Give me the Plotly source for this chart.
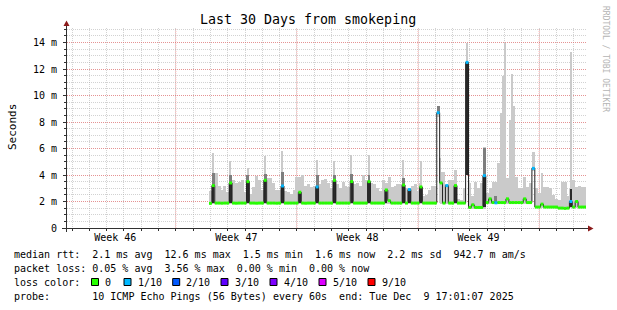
import pandas as pd
import plotly.graph_objects as go

# ---------------- data ----------------
START = "2025-11-09 17:01:07"
END = "2025-12-09 17:01:07"
FIRST_BIN = "2025-11-17 22:00:00"   # first 4-hour bin with data
BIN_HOURS = 4

# median RTT per 4h bin (ms), one row per day (6 bins/day)
median_ms = [
    1.86, 3.20, 1.88, 1.88, 1.87, 1.88,
    1.88, 3.40, 1.88, 1.87, 1.88, 1.88,
    1.88, 3.50, 1.88, 1.88, 1.87, 1.88,
    1.88, 3.60, 1.88, 1.88, 1.88, 1.87,
    1.88, 3.17, 1.88, 1.88, 1.88, 1.88,
    1.88, 2.70, 1.88, 1.87, 1.88, 1.88,
    1.88, 3.10, 1.88, 1.88, 1.88, 1.88,
    1.88, 3.60, 1.88, 1.88, 1.88, 1.88,
    1.88, 3.50, 1.88, 1.88, 1.88, 1.88,
    1.88, 3.50, 1.88, 1.88, 1.88, 1.88,
    1.88, 2.87, 2.06, 1.88, 1.88, 1.88,
    1.88, 3.24, 1.88, 2.90, 1.88, 1.88,
    1.88, 3.10, 1.88, 1.88, 1.88, 1.88,
    1.88, 8.70, 3.40, 1.88, 3.20, 1.88,
    1.88, 3.20, 1.88, 1.88, 1.88, 12.50,
    1.55, 1.75, 1.55, 1.55, 1.55, 3.95,
    1.92, 2.20, 1.92, 1.90, 1.92, 1.92,
    1.92, 2.20, 1.92, 1.92, 1.92, 1.92,
    1.92, 2.20, 1.92, 1.92, 4.50, 1.58,
    1.58, 1.80, 1.58, 1.58, 1.58, 1.58,
    1.58, 1.50, 1.50, 1.48, 1.50, 2.00,
    1.58, 2.00, 1.58, 1.58, 1.58,
]

# loss class per bin (index into loss_labels)
loss_idx = [
    0, 0, 0, 0, 0, 0,
    0, 0, 0, 0, 0, 0,
    0, 0, 0, 0, 0, 0,
    0, 0, 0, 0, 0, 0,
    0, 1, 0, 0, 0, 0,
    0, 0, 0, 0, 0, 0,
    0, 1, 0, 0, 0, 0,
    0, 0, 0, 0, 0, 0,
    0, 0, 0, 0, 0, 0,
    0, 0, 0, 0, 0, 0,
    0, 0, 0, 0, 0, 0,
    0, 0, 0, 1, 0, 0,
    0, 0, 0, 0, 0, 0,
    0, 1, 0, 0, 1, 0,
    0, 0, 0, 0, 0, 1,
    0, 0, 0, 0, 0, 1,
    0, 0, 0, 1, 0, 0,
    0, 0, 0, 0, 0, 0,
    0, 0, 0, 0, 1, 0,
    0, 0, 0, 0, 0, 0,
    0, 0, 0, 0, 0, 1,
    0, 0, 0, 0, 0,
]

# light smoke: highest ping per bin (ms)
smoke_max_ms = [
    2.80, 4.17, 4.17, 3.20, 2.90, 3.20,
    2.74, 3.60, 3.60, 3.40, 3.50, 3.60,
    2.74, 3.60, 2.60, 3.10, 3.95, 3.60,
    2.87, 3.70, 3.80, 3.80, 3.40, 2.87,
    2.87, 4.20, 2.80, 2.70, 2.60, 2.87,
    3.87, 3.87, 4.00, 3.20, 3.30, 3.10,
    3.20, 4.00, 3.30, 3.60, 3.70, 3.40,
    3.00, 4.00, 3.30, 3.00, 3.50, 3.20,
    3.10, 4.10, 3.30, 3.40, 3.20, 4.00,
    3.60, 4.00, 3.40, 3.30, 3.00, 2.80,
    3.60, 3.40, 3.87, 3.10, 3.20, 3.30,
    3.30, 3.80, 3.00, 3.00, 3.20, 3.30,
    2.80, 3.40, 2.40, 2.50, 2.90, 3.20,
    3.20, 9.20, 4.20, 4.20, 3.30, 3.60,
    3.60, 4.40, 2.20, 2.10, 3.00, 14.00,
    3.40, 2.40, 3.50, 3.00, 3.40, 6.10,
    2.67, 3.00, 3.50, 3.50, 4.90, 8.70,
    11.50, 3.80, 8.15, 9.20, 3.87, 3.00,
    3.00, 3.87, 3.10, 3.40, 5.76, 3.00,
    2.64, 4.15, 3.10, 3.10, 3.00, 2.50,
    2.20, 2.10, 3.50, 3.50, 2.40, 2.94,
    3.60, 3.10, 3.20, 3.10, 3.10,
]

# light smoke: lowest ping per bin (ms)
smoke_min_ms = [
    1.80, 1.80, 1.80, 1.80, 1.80, 1.80,
    1.80, 1.80, 1.80, 1.80, 1.80, 1.80,
    1.80, 1.80, 1.80, 1.80, 1.80, 1.80,
    1.80, 1.80, 1.80, 1.80, 1.80, 1.80,
    1.80, 1.80, 1.80, 1.80, 1.80, 1.80,
    1.80, 1.80, 1.80, 1.80, 1.80, 1.80,
    1.80, 1.80, 1.80, 1.80, 1.80, 1.80,
    1.80, 1.80, 1.80, 1.80, 1.80, 1.80,
    1.80, 1.80, 1.80, 1.80, 1.80, 1.80,
    1.80, 1.80, 1.80, 1.80, 1.80, 1.80,
    1.80, 1.80, 1.80, 1.80, 1.80, 1.80,
    1.80, 1.80, 1.80, 1.80, 1.80, 1.80,
    1.80, 1.80, 1.80, 1.80, 1.80, 1.80,
    1.80, 8.40, 1.80, 1.80, 1.80, 1.80,
    1.80, 1.80, 1.80, 1.80, 1.80, 4.00,
    1.45, 1.45, 1.45, 1.45, 1.45, 1.45,
    1.82, 1.82, 1.82, 1.82, 1.82, 1.82,
    1.82, 1.82, 1.82, 1.82, 1.82, 1.82,
    1.82, 1.82, 1.82, 1.82, 4.30, 1.48,
    1.48, 1.48, 1.48, 1.48, 1.48, 1.48,
    1.48, 1.42, 1.42, 1.42, 1.42, 1.48,
    1.48, 1.48, 1.48, 1.48, 1.48,
]

# medium-grey smoke (bin index, low, high)
mid_bin = [1, 7, 13, 19, 25, 37, 43, 49, 55, 67, 79, 95, 99]
mid_lo = [3.20, 3.40, 3.50, 3.60, 3.17, 3.10, 3.60, 3.50, 3.50, 3.24, 8.70, 3.95, 1.90]
mid_hi = [4.17, 4.00, 4.00, 4.10, 4.20, 4.00, 4.00, 4.10, 4.00, 3.80, 9.20, 6.06, 2.40]

# darkest smoke (bin index, low, high)
dark_bin = [1, 7, 13, 19, 25, 31, 37, 43, 49, 55, 61, 67, 69, 73, 85, 89, 95, 125]
dark_lo = [1.88, 1.88, 1.88, 1.88, 1.88, 1.88, 1.88, 1.88, 1.88, 1.88, 1.88, 1.88,
           1.88, 1.88, 1.88, 4.00, 1.55, 1.58]
dark_hi = [3.20, 3.40, 3.50, 3.60, 3.17, 2.70, 3.10, 3.60, 3.50, 3.50, 2.87, 3.24,
           2.90, 3.10, 3.20, 12.50, 3.95, 2.94]

# single outlier pings (time, ms)
thin_time = ["2025-11-18 03:30", "2025-11-19 03:30", "2025-11-20 03:30",
             "2025-11-21 03:30", "2025-11-22 03:30", "2025-11-24 03:30",
             "2025-11-25 03:30", "2025-11-26 03:30", "2025-11-27 03:30",
             "2025-11-29 03:30", "2025-11-30 03:30", "2025-12-01 06:25",
             "2025-12-04 21:50", "2025-12-05 00:40", "2025-12-05 10:25",
             "2025-12-08 20:10"]
thin_ms = [5.66, 5.06, 4.50, 5.43, 5.80, 5.13, 5.06, 5.50, 5.50, 5.13, 5.06,
           5.30, 11.50, 14.00, 11.60, 13.30]
thin_base_ms = 1.85

loss_labels = ["0", "1/10", "2/10", "3/10", "4/10", "5/10", "9/10"]
loss_colors = ["#26ff00", "#00b8ff", "#0059ff", "#5e00ff", "#7e00ff", "#dd00ff", "#ff0000"]

week_labels = ["Week 46", "Week 47", "Week 48", "Week 49"]
week_centers = ["2025-11-12 12:00", "2025-11-19 12:00", "2025-11-26 12:00", "2025-12-03 12:00"]
week_bounds = ["2025-11-16 00:00", "2025-11-23 00:00", "2025-11-30 00:00", "2025-12-07 00:00"]
y_tickvals = [0, 2, 4, 6, 8, 10, 12, 14]
y_ticktext = ["0", "2 m", "4 m", "6 m", "8 m", "10 m", "12 m", "14 m"]

title_text = "Last 30 Days from smokeping"
y_title = "Seconds"
side_text = "RRDTOOL / TOBI OETIKER"
stat_lines = [
    "median rtt:  2.1 ms avg  12.6 ms max  1.5 ms min  1.6 ms now  2.2 ms sd  942.7 m am/s",
    "packet loss: 0.05 % avg  3.56 % max  0.00 % min  0.00 % now",
    "loss color:",
    "probe:       10 ICMP Echo Pings (56 Bytes) every 60s  end: Tue Dec  9 17:01:07 2025",
]

# ---------------- geometry (pixels) ----------------
W, H = 617, 310
L, R, T, B = 67, 31, 28, 82
PW, PH = W - L - R, H - T - B
Y_MAX = 15.094
MONO = "DejaVu Sans Mono"


def px(x):
    return (x - L) / PW


def py(y):
    return (T + PH - y) / PH


# ---------------- build ----------------
n = len(median_ms)
bin_w = pd.Timedelta(hours=BIN_HOURS)
bin_start = pd.date_range(FIRST_BIN, periods=n, freq=f"{BIN_HOURS}h")
bin_mid = bin_start + bin_w / 2
bin_ms = bin_w.total_seconds() * 1000

fig = go.Figure()

LIGHT = "#cacaca"
MID = "#7e7e7e"
DARK = "#2a2a2a"

# outlier pings
fig.add_trace(go.Bar(
    x=pd.to_datetime(thin_time), y=[v - thin_base_ms for v in thin_ms], base=thin_base_ms,
    width=1.5 * 3600 * 1000, marker=dict(color=LIGHT, line=dict(width=0)),
    hoverinfo="skip"))
# light smoke
fig.add_trace(go.Bar(
    x=bin_mid, y=[mx - mn for mx, mn in zip(smoke_max_ms, smoke_min_ms)], base=smoke_min_ms,
    width=bin_ms, marker=dict(color=LIGHT, line=dict(width=0)), hoverinfo="skip"))
# medium smoke
fig.add_trace(go.Bar(
    x=[bin_mid[k] for k in mid_bin], y=[h - l for l, h in zip(mid_lo, mid_hi)], base=mid_lo,
    width=bin_ms, marker=dict(color=MID, line=dict(width=0)), hoverinfo="skip"))
# dark smoke
fig.add_trace(go.Bar(
    x=[bin_mid[k] for k in dark_bin], y=[h - l for l, h in zip(dark_lo, dark_hi)], base=dark_lo,
    width=bin_ms * 0.8, marker=dict(color=DARK, line=dict(width=0)), hoverinfo="skip"))
# median step line (thin dark)
fig.add_trace(go.Scatter(
    x=list(bin_start) + [bin_start[-1] + bin_w], y=median_ms + [median_ms[-1]],
    mode="lines", line=dict(color="#202020", width=1, shape="hv"), hoverinfo="skip"))
# median colored by loss
for li, col in enumerate(loss_colors):
    xs, ys = [], []
    for k in range(n):
        if loss_idx[k] == li:
            xs += [bin_start[k], bin_start[k] + bin_w, None]
            ys += [median_ms[k], median_ms[k], None]
    if xs:
        fig.add_trace(go.Scatter(x=xs, y=ys, mode="lines",
                                 line=dict(color=col, width=3), hoverinfo="skip"))

GRID_MINOR = "rgba(165,165,165,0.5)"
GRID_MAJOR = "rgba(255,60,60,0.42)"
DASH = "1px,1px"

shapes = []
for wb in week_bounds:
    shapes.append(dict(type="line", xref="x", yref="paper", x0=wb, x1=wb, y0=0, y1=1,
                       line=dict(color=GRID_MAJOR, width=1, dash=DASH), layer="below"))
# axis lines + arrows
AX = "#303030"
ARROW = "#8b1a1a"
shapes += [
    dict(type="line", xref="paper", yref="paper", x0=px(66.5), x1=px(66.5), y0=py(232), y1=py(25),
         line=dict(color=AX, width=1)),
    dict(type="line", xref="paper", yref="paper", x0=px(62), x1=px(589), y0=py(228.5), y1=py(228.5),
         line=dict(color=AX, width=1)),
    dict(type="path", xref="paper", yref="paper",
         path=f"M {px(63.5)},{py(26)} L {px(69.5)},{py(26)} L {px(66.5)},{py(20.5)} Z",
         fillcolor=ARROW, line=dict(width=0)),
    dict(type="path", xref="paper", yref="paper",
         path=f"M {px(588)},{py(225.5)} L {px(588)},{py(231.5)} L {px(593.5)},{py(228.5)} Z",
         fillcolor=ARROW, line=dict(width=0)),
]

annotations = [
    dict(text=title_text, xref="paper", yref="paper", x=px(307.5), y=py(19.5),
         xanchor="center", yanchor="middle", showarrow=False,
         font=dict(family=MONO, size=13.3, color="#000")),
    dict(text=y_title, xref="paper", yref="paper", x=px(12), y=py(127),
         xanchor="center", yanchor="middle", textangle=-90, showarrow=False,
         font=dict(family=MONO, size=11, color="#000")),
    dict(text=side_text, xref="paper", yref="paper", x=px(606), y=py(59),
         xanchor="center", yanchor="middle", textangle=90, showarrow=False,
         font=dict(family=MONO, size=8, color="#b4b4b4")),
]
line_y = [254.5, 268, 282, 296]
for txt, ly in zip(stat_lines, line_y):
    annotations.append(dict(text=txt.replace(" ", "\u00a0"), xref="paper", yref="paper",
                            x=px(12), y=py(ly), xanchor="left", yanchor="middle",
                            showarrow=False, font=dict(family=MONO, size=10, color="#000")))
box_x = [91.5, 124, 172.7, 221, 270, 319, 368]
for bx, lab, col in zip(box_x, loss_labels, loss_colors):
    shapes.append(dict(type="rect", xref="paper", yref="paper", x0=px(bx), x1=px(bx + 7),
                       y0=py(line_y[2] + 3.5), y1=py(line_y[2] - 3.5),
                       fillcolor=col, line=dict(color="#000", width=1)))
    annotations.append(dict(text=lab, xref="paper", yref="paper", x=px(bx + 11.5), y=py(line_y[2]),
                            xanchor="left", yanchor="middle", showarrow=False,
                            font=dict(family=MONO, size=10, color="#000")))

fig.update_layout(
    width=W, height=H, margin=dict(l=L, r=R, t=T, b=B, pad=0),
    paper_bgcolor="#ffffff", plot_bgcolor="#ffffff",
    showlegend=False, barmode="overlay", bargap=0, hovermode=False,
    shapes=shapes, annotations=annotations,
    xaxis=dict(type="date", range=[START, END], tickvals=week_centers, ticktext=week_labels,
               showgrid=False, zeroline=False, showline=False, ticks="", fixedrange=True,
               tickfont=dict(family=MONO, size=10, color="#000"), ticklabelstandoff=2,
               minor=dict(dtick=86400000, tick0="2025-11-10", showgrid=True,
                          gridcolor=GRID_MINOR, griddash=DASH, gridwidth=1,
                          ticks="outside", ticklen=2, tickcolor=AX)),
    yaxis=dict(range=[0, Y_MAX], tickvals=y_tickvals, ticktext=y_ticktext,
               showgrid=True, gridcolor=GRID_MAJOR, griddash=DASH, gridwidth=1,
               zeroline=False, showline=False, ticks="outside", ticklen=3, tickcolor=AX,
               fixedrange=True, ticklabelstandoff=4,
               tickfont=dict(family=MONO, size=10, color="#000"),
               minor=dict(dtick=0.5, showgrid=True, gridcolor=GRID_MINOR, griddash=DASH,
                          gridwidth=1, ticks="outside", ticklen=2, tickcolor=AX)),
)

fig.write_html("out.html", include_plotlyjs=True, config={"displayModeBar": False},
               post_script="document.body.style.margin='0';")
